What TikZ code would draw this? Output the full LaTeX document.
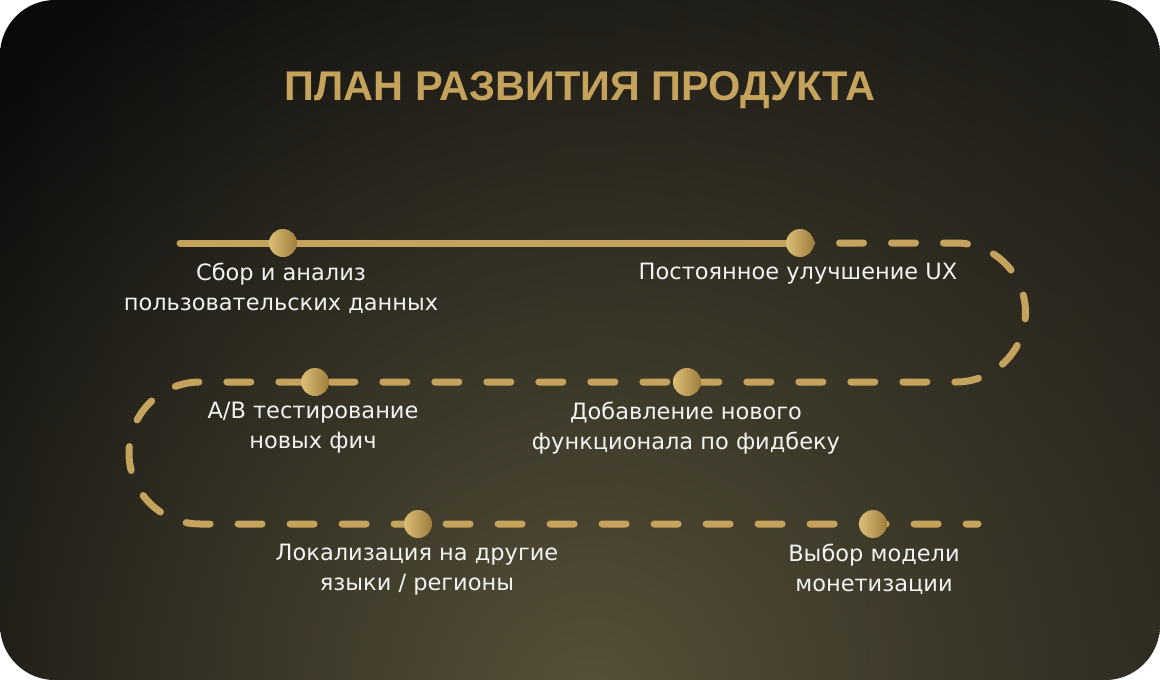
\documentclass[tikz,border=0pt]{standalone}
\usepackage{fontspec}
\setmainfont{DejaVu Sans}
\newfontfamily\titlefont{Liberation Sans}
\usetikzlibrary{fadings}

\definecolor{bgleft}{HTML}{0A0A0B}
\definecolor{bgright}{HTML}{1C1A16}
\definecolor{bglight}{HTML}{575139}
\definecolor{gold}{HTML}{C6A35C}
\definecolor{goldlight}{HTML}{DDBE76}
\definecolor{golddark}{HTML}{9E7D3C}
\definecolor{labeltext}{HTML}{F2F2F0}

\tikzfading[name=glow, inner color=transparent!0, outer color=transparent!100]

\begin{document}
\begin{tikzpicture}[x=1pt,y=-1pt]
\tikzset{
  stop/.style={circle, inner sep=0pt, minimum size=28pt, left color=goldlight, right color=golddark},
  lbl/.style={anchor=north, align=center, text=labeltext, inner sep=0pt, font=\fontsize{22.5}{30}\selectfont},
  track/.style={gold, line width=7pt, line cap=round},
  dashtrack/.style={track, dash pattern=on 24pt off 28pt, dash phase=12.5pt}
}
\useasboundingbox (0,0) rectangle (1160,680);
\fill[white] (0,0) rectangle (1160,680);

% card background
\begin{scope}
\clip[rounded corners=55pt] (0,0) rectangle (1160,680);
\shade[left color=bgleft, right color=bgright] (0,0) rectangle (1160,680);
\fill[bglight, path fading=glow] (590,700) circle (850);
\end{scope}

\node[anchor=base, text=gold, font=\titlefont\fontsize{41.5}{50}\selectfont\bfseries] (title) at (580,100) {ПЛАН РАЗВИТИЯ ПРОДУКТА};

% stops on the track
\coordinate (s0) at (180,243);
\coordinate (c1) at (283,243);
\coordinate (c2) at (800,243);
\coordinate (r1) at (956,243);
\coordinate (c3) at (687,382);
\coordinate (c4) at (315,382);
\coordinate (l1) at (200,382);
\coordinate (c5) at (418,524);
\coordinate (c6) at (873,524);
\coordinate (e0) at (978,524);

\draw[track] (s0) -- (c2);
\draw[dashtrack] (c2) -- (r1) arc[start angle=-90, end angle=90, radius=69.5] -- (l1) arc[start angle=-90, end angle=-270, radius=71] -- (e0);

\node[stop] (p1) at (c1) {};
\node[stop] (p2) at (c2) {};
\node[stop] (p3) at (c3) {};
\node[stop] (p4) at (c4) {};
\node[stop] (p5) at (c5) {};
\node[stop] (p6) at (c6) {};

\node[lbl] (t1) at (281,263) {Сбор и анализ\\пользовательских данных};
\node[lbl] (t2) at (798,263) {Постоянное улучшение UX};
\node[lbl] (t3) at (313,402) {A/B тестирование\\новых фич};
\node[lbl] (t4) at (686,402) {Добавление нового\\функционала по фидбеку};
\node[lbl] (t5) at (417,544) {Локализация на другие\\языки / регионы};
\node[lbl] (t6) at (874,544) {Выбор модели\\монетизации};
\end{tikzpicture}
\end{document}
